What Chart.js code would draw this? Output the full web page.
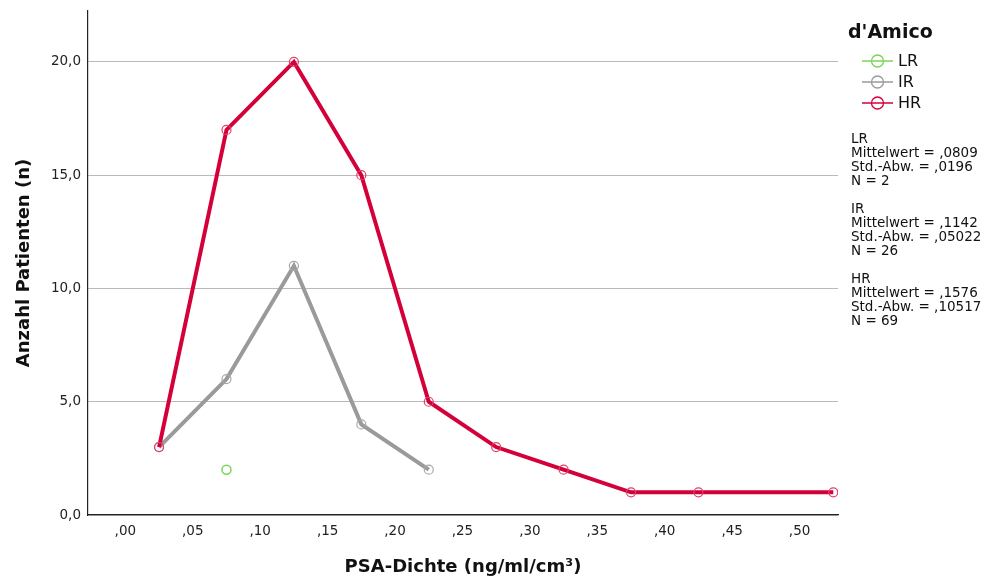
<!DOCTYPE html>
<html lang="de">
<head>
    <meta charset="UTF-8">
    <title>PSA-Dichte nach d'Amico</title>
    <script src="https://cdn.jsdelivr.net/npm/chart.js"></script>
    <style>
        body {
            margin: 0;
            background-color: #fff;
            font-family: "DejaVu Sans", sans-serif;
            color: #111;
        }

        #wrap {
            position: relative;
            width: 991px;
            height: 579px;
        }

        #legend {
            position: absolute;
            left: 848px;
            top: 19px;
        }

        #legend .title {
            font-weight: bold;
            font-size: 19px;
            line-height: 24px;
            margin-bottom: 7px;
        }

        #legend .item {
            display: flex;
            align-items: center;
            height: 21px;
            font-size: 16px;
            padding-left: 14px;
        }

        #legend .item svg {
            margin-right: 5px;
        }

        #stats {
            position: absolute;
            left: 851px;
            top: 131px;
            font-size: 13.5px;
            line-height: 14px;
        }
    </style>
</head>
<body>
    <div id="wrap">
        <canvas id="chart" width="991" height="579"></canvas>
        <div id="legend"></div>
        <div id="stats"></div>
    </div>

    <script>
        // Klassenmitten der PSA-Dichte und Anzahl Patienten je Gruppe
        const lrX = [0.075];
        const lrN = [2];
        const irX = [0.025, 0.075, 0.125, 0.175, 0.225];
        const irN = [3, 6, 11, 4, 2];
        const hrX = [0.025, 0.075, 0.125, 0.175, 0.225, 0.275, 0.325, 0.375, 0.425, 0.525];
        const hrN = [3, 17, 20, 15, 5, 3, 2, 1, 1, 1];

        const xTicks = [0, 0.05, 0.10, 0.15, 0.20, 0.25, 0.30, 0.35, 0.40, 0.45, 0.50];
        const yTicks = [0, 5, 10, 15, 20];

        const groups = ['LR', 'IR', 'HR'];
        const colors = ['#7dd35a', '#9a9a9a', '#d4003a'];
        const stats = [
            ['LR', 'Mittelwert = ,0809', 'Std.-Abw. = ,0196', 'N = 2'],
            ['IR', 'Mittelwert = ,1142', 'Std.-Abw. = ,05022', 'N = 26'],
            ['HR', 'Mittelwert = ,1576', 'Std.-Abw. = ,10517', 'N = 69']
        ];

        function points(xs, ys) {
            return xs.map((x, i) => ({ x: x, y: ys[i] }));
        }

        const font = 'DejaVu Sans';

        new Chart(document.getElementById('chart'), {
            type: 'line',
            data: {
                datasets: [
                    {
                        label: 'LR',
                        data: points(lrX, lrN),
                        showLine: false,
                        borderColor: colors[0],
                        backgroundColor: 'transparent',
                        pointRadius: 4.5,
                        pointBorderWidth: 1.5,
                        order: 2
                    },
                    {
                        label: 'IR',
                        data: points(irX, irN),
                        borderColor: colors[1],
                        borderWidth: 4,
                        pointBorderColor: '#a8a8a8',
                        pointBackgroundColor: 'transparent',
                        pointRadius: 4.5,
                        pointBorderWidth: 1.2,
                        order: 1
                    },
                    {
                        label: 'HR',
                        data: points(hrX, hrN),
                        borderColor: colors[2],
                        borderWidth: 4,
                        pointBorderColor: '#e0406a',
                        pointBackgroundColor: 'transparent',
                        pointRadius: 4.5,
                        pointBorderWidth: 1.2,
                        order: 0
                    }
                ]
            },
            options: {
                responsive: false,
                animation: false,
                layout: {
                    padding: { left: 0, right: 153, top: 11, bottom: 0 }
                },
                plugins: {
                    legend: { display: false },
                    tooltip: { enabled: false }
                },
                scales: {
                    x: {
                        type: 'linear',
                        min: -0.0277,
                        max: 0.5285,
                        afterBuildTicks: scale => {
                            scale.ticks = xTicks.map(v => ({ value: v }));
                        },
                        afterFit: scale => {
                            scale.height = 64;
                            scale.paddingLeft = 0;
                            scale.paddingRight = 0;
                        },
                        grid: { display: false, drawTicks: false },
                        border: { display: true, color: '#222', width: 1.2 },
                        ticks: {
                            padding: 8,
                            color: '#222',
                            font: { family: font, size: 13.5 },
                            maxRotation: 0,
                            callback: v => v.toFixed(2).replace('0.', ',')
                        },
                        title: {
                            display: true,
                            text: 'PSA-Dichte (ng/ml/cm³)',
                            color: '#111',
                            font: { family: font, size: 18, weight: 'bold' },
                            padding: { top: 0, bottom: 1 }
                        }
                    },
                    y: {
                        min: 0,
                        max: 22.25,
                        afterBuildTicks: scale => {
                            scale.ticks = yTicks.map(v => ({ value: v }));
                        },
                        afterFit: scale => {
                            scale.width = 88;
                            scale.paddingTop = 0;
                            scale.paddingBottom = 0;
                        },
                        grid: { color: '#b9b9b9', lineWidth: 1, drawTicks: false },
                        border: { display: true, color: '#222', width: 1.2 },
                        ticks: {
                            padding: 7,
                            color: '#222',
                            font: { family: font, size: 13.5 },
                            callback: v => v.toFixed(1).replace('.', ',')
                        },
                        title: {
                            display: true,
                            text: 'Anzahl Patienten (n)',
                            color: '#111',
                            font: { family: font, size: 18, weight: 'bold' },
                            padding: { top: 14, bottom: 0 }
                        }
                    }
                }
            }
        });

        // Legende und Kennwerte rechts neben dem Diagramm
        let html = '<div class="title">d\'Amico</div>';
        groups.forEach((g, i) => {
            html += '<div class="item"><svg width="31" height="14">' +
                '<line x1="0" y1="7" x2="31" y2="7" stroke="' + colors[i] + '" stroke-width="1.5"/>' +
                '<circle cx="15.5" cy="7" r="6" fill="none" stroke="' + colors[i] + '" stroke-width="1.3"/>' +
                '</svg>' + g + '</div>';
        });
        document.getElementById('legend').innerHTML = html;

        document.getElementById('stats').innerHTML = stats
            .map(block => block.join('<br>'))
            .join('<br><br>');
    </script>
</body>
</html>
